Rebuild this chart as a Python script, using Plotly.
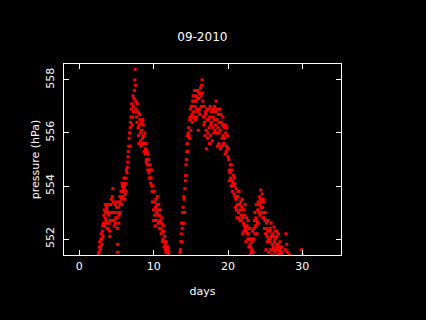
import plotly.graph_objects as go

# ---- data (days since start of month, pressure hPa) ----
days_a = [2.5, 2.6, 2.7, 2.8, 2.9, 3.0, 3.1, 3.2, 3.3, 3.4, 3.5, 3.6, 3.7, 3.8, 3.9,
          4.0, 4.1, 4.2, 4.3, 4.4, 4.5, 4.6, 4.7, 4.8, 4.9, 5.0, 5.1, 5.15, 5.2, 5.3,
          5.4, 5.5, 5.6, 5.7, 5.8, 5.9, 6.0, 6.1, 6.2, 6.3, 6.4, 6.5, 6.6, 6.7, 6.8,
          6.9, 7.0, 7.1, 7.2, 7.3, 7.4, 7.5, 7.6, 7.7, 7.8, 7.9, 8.0, 8.1, 8.2, 8.3,
          8.4, 8.5, 8.6, 8.7, 8.8, 8.9, 9.0, 9.1, 9.2, 9.3, 9.4, 9.5, 9.6, 9.7, 9.8,
          9.9, 10.0, 10.1, 10.2, 10.3, 10.4, 10.5, 10.6, 10.7, 10.8, 10.9, 11.0, 11.1,
          11.2, 11.3, 11.4, 11.5, 11.6, 11.7, 11.8, 11.9, 12.0, 12.1]
pres_a = [551.3, 551.45, 551.7, 551.6, 552.0, 551.8, 552.3, 552.1, 552.9, 552.5, 553.3,
          552.7, 553.1, 552.4, 553.3, 552.6, 552.1, 553.0, 553.5, 552.7, 553.9, 553.0,
          552.5, 553.3, 552.8, 553.2, 552.4, 551.5, 553.0, 552.6, 553.4, 553.0, 553.8,
          553.3, 554.0, 553.6, 554.3, 553.5, 554.1, 553.8, 554.5, 554.9, 555.3, 555.8,
          555.5, 556.4, 556.9, 556.3, 557.4, 556.8, 557.6, 558.4, 557.2, 556.6, 557.1,
          556.2, 555.6, 556.7, 556.0, 555.5, 556.4, 555.8, 556.3, 555.3, 556.0, 555.4,
          554.9, 555.3, 554.6, 555.0, 554.3, 554.8, 554.1, 554.6, 553.8, 554.0, 552.7,
          553.4, 552.5, 553.5, 553.0, 553.6, 552.9, 553.3, 552.4, 553.1, 552.2, 552.8,
          551.9, 552.5, 551.7, 552.1, 551.6, 551.9, 551.5, 551.7, 551.45, 551.3]

days_a2 = [2.65, 2.75, 2.85, 2.95, 3.05, 3.15, 3.25, 3.35, 3.45, 3.55, 3.65, 3.75,
           3.85, 3.95, 4.05, 4.15, 4.25, 4.35, 4.45, 4.55, 4.65, 4.75, 4.85, 4.95,
           5.05, 5.15, 5.25, 5.35, 5.45, 5.55, 5.65, 5.75, 5.85, 5.95, 6.05, 6.15,
           6.25, 6.35, 6.45, 6.55, 6.65, 6.75, 6.85, 6.95, 7.05, 7.15, 7.25, 7.35,
           7.45, 7.55, 7.65, 7.75, 7.85, 7.95, 8.05, 8.15, 8.25, 8.35, 8.45, 8.55,
           8.65, 8.75, 8.85, 8.95, 9.05, 9.15, 9.25, 9.35, 9.45, 9.55, 9.65, 9.75,
           9.85, 9.95, 10.05, 10.15, 10.25, 10.35, 10.45, 10.55, 10.65, 10.75, 10.85,
           10.95, 11.05, 11.15, 11.25, 11.35, 11.45, 11.55, 11.65, 11.75, 11.85,
           11.95, 12.05]
pres_a2 = [551.5, 551.9, 551.7, 552.2, 552.0, 552.5, 552.6, 553.1, 552.8, 553.0,
           553.2, 552.6, 553.0, 552.9, 552.3, 552.7, 553.3, 553.0, 553.6, 553.4,
           552.7, 553.0, 552.6, 553.4, 552.8, 551.8, 553.2, 552.9, 553.6, 553.3,
           553.5, 554.1, 553.8, 553.9, 554.0, 553.7, 554.3, 554.6, 554.7, 555.1,
           555.5, 556.0, 556.2, 556.6, 557.1, 556.6, 557.0, 557.3, 558.0, 557.8,
           556.9, 556.4, 556.8, 555.9, 556.3, 556.5, 555.7, 556.1, 555.6, 556.5,
           555.9, 555.6, 555.2, 555.6, 555.0, 554.8, 555.2, 554.5, 554.6, 554.3,
           554.3, 554.0, 553.4, 553.1, 553.8, 552.9, 553.2, 552.7, 553.3, 553.1,
           552.6, 552.9, 552.7, 552.4, 552.6, 552.3, 552.0, 552.3, 551.9, 551.8,
           551.5, 551.7, 551.6, 551.5, 551.5]

days_b = [13.5, 13.6, 13.7, 13.8, 13.9, 14.0, 14.1, 14.2, 14.3, 14.4, 14.5, 14.6, 14.7,
          14.8, 14.9, 15.0, 15.1, 15.2, 15.3, 15.4, 15.5, 15.6, 15.7, 15.8, 15.9, 16.0,
          16.1, 16.2, 16.3, 16.4, 16.5, 16.6, 16.7, 16.8, 16.9, 17.0, 17.1, 17.2, 17.3,
          17.4, 17.5, 17.6, 17.7, 17.8, 17.9, 18.0, 18.1, 18.2, 18.3, 18.4, 18.5, 18.6,
          18.7, 18.8, 18.9, 19.0, 19.1, 19.2, 19.3, 19.4, 19.5, 19.6, 19.7, 19.8, 19.9,
          20.0, 20.1, 20.2, 20.3, 20.4, 20.5, 20.6, 20.7, 20.8, 20.9, 21.0, 21.1, 21.2,
          21.3, 21.4, 21.5, 21.6, 21.7, 21.8, 21.9, 22.0, 22.1, 22.2, 22.3, 22.4, 22.5,
          22.6, 22.7, 22.8, 22.9, 23.0, 23.1, 23.2, 23.3, 23.4, 23.5, 23.6, 23.7, 23.8,
          23.9, 24.0, 24.1, 24.2, 24.3, 24.4, 24.5, 24.6, 24.7, 24.8, 24.9, 25.0, 25.1,
          25.2, 25.3, 25.4, 25.5, 25.6, 25.7, 25.8, 25.9, 26.0, 26.1, 26.2, 26.3, 26.4,
          26.5, 26.6, 26.7, 26.8, 26.9, 27.0, 27.1, 27.2, 27.3, 27.5, 27.7, 27.8, 27.9,
          28.0, 28.3, 28.5, 29.0, 29.5, 29.9, 30.0]
pres_b = [551.3, 551.6, 552.2, 551.9, 553.0, 552.6, 553.5, 553.9, 554.4, 555.0, 555.6,
          555.3, 556.2, 555.8, 556.6, 556.1, 557.0, 556.4, 557.4, 556.8, 557.6, 556.5,
          557.2, 556.9, 557.6, 556.1, 557.3, 556.7, 557.7, 557.0, 558.0, 557.2, 556.6,
          557.0, 555.9, 556.8, 555.4, 556.5, 556.0, 556.9, 555.6, 557.0, 556.3, 556.8,
          555.7, 556.6, 556.0, 557.0, 556.3, 557.2, 556.5, 555.5, 556.7, 556.0, 556.9,
          555.4, 556.4, 555.8, 556.6, 555.6, 556.2, 555.2, 556.0, 555.5, 555.9, 555.1,
          555.0, 554.2, 554.8, 554.0, 554.6, 553.8, 554.4, 553.7, 554.1, 553.2, 553.9,
          552.8, 553.6, 553.0, 553.8, 552.7, 553.4, 552.9, 553.5, 552.2, 553.1, 552.5,
          553.3, 551.9, 552.8, 552.2, 552.7, 551.7, 552.4, 551.4, 552.0, 551.6, 552.3,
          551.5, 552.4, 553.0, 552.5, 553.3, 552.2, 553.1, 552.6, 553.6, 552.9, 553.85,
          553.2, 553.7, 552.8, 553.4, 552.4, 553.0, 551.6, 552.6, 551.9, 552.7, 551.5,
          552.3, 552.0, 552.6, 551.4, 552.2, 551.7, 552.45, 551.5, 552.3, 551.8, 552.1,
          551.4, 552.2, 551.6, 551.9, 551.4, 551.7, 551.3, 551.2, 551.6, 552.2, 551.8,
          551.5, 551.4, 551.2, 551.1, 551.2, 551.6, 551.4]

days_b2 = [13.55, 13.65, 13.75, 13.85, 13.95, 14.05, 14.15, 14.25, 14.35, 14.45,
           14.55, 14.65, 14.75, 14.85, 14.95, 15.05, 15.15, 15.25, 15.35, 15.45,
           15.55, 15.65, 15.75, 15.85, 15.95, 16.05, 16.15, 16.25, 16.35, 16.45,
           16.55, 16.65, 16.75, 16.85, 16.95, 17.05, 17.15, 17.25, 17.35, 17.45,
           17.55, 17.65, 17.75, 17.85, 17.95, 18.05, 18.15, 18.25, 18.35, 18.45,
           18.55, 18.65, 18.75, 18.85, 18.95, 19.05, 19.15, 19.25, 19.35, 19.45,
           19.55, 19.65, 19.75, 19.85, 19.95, 20.05, 20.15, 20.25, 20.35, 20.45,
           20.55, 20.65, 20.75, 20.85, 20.95, 21.05, 21.15, 21.25, 21.35, 21.45,
           21.55, 21.65, 21.75, 21.85, 21.95, 22.05, 22.15, 22.25, 22.35, 22.45,
           22.55, 22.65, 22.75, 22.85, 22.95, 23.05, 23.15, 23.25, 23.35, 23.45,
           23.55, 23.65, 23.75, 23.85, 23.95, 24.05, 24.15, 24.25, 24.35, 24.45,
           24.55, 24.65, 24.75, 24.85, 24.95, 25.05, 25.15, 25.25, 25.35, 25.45,
           25.55, 25.65, 25.75, 25.85, 25.95, 26.05, 26.15, 26.25, 26.35, 26.45,
           26.55, 26.65, 26.75, 26.85, 26.95, 27.05, 27.15, 27.25]
pres_b2 = [551.5, 551.9, 552.6, 552.4, 553.2, 553.6, 553.0, 554.2, 554.8, 555.3,
           555.9, 556.0, 555.9, 556.5, 556.9, 556.6, 556.7, 557.2, 556.6, 557.2,
           557.0, 557.4, 556.6, 557.3, 556.8, 557.5, 556.9, 557.5, 557.4, 557.8,
           557.5, 557.0, 556.3, 556.4, 556.7, 556.1, 556.9, 555.8, 556.5, 556.2,
           556.6, 555.9, 556.4, 556.9, 556.2, 556.9, 556.5, 556.1, 556.8, 556.0,
           556.9, 556.2, 555.6, 556.4, 556.1, 556.7, 555.5, 556.3, 555.9, 556.3,
           555.8, 556.3, 555.3, 556.2, 555.4, 555.4, 554.6, 554.5, 554.3, 554.8,
           554.2, 554.1, 554.0, 554.3, 553.6, 553.5, 553.1, 553.3, 553.8, 552.8,
           553.3, 553.1, 552.7, 553.2, 552.8, 552.6, 552.3, 552.9, 552.4, 552.3,
           552.5, 552.0, 552.2, 552.0, 551.8, 551.7, 551.5, 551.9, 552.0, 552.0,
           552.7, 552.2, 552.8, 552.7, 552.6, 553.4, 553.0, 553.3, 553.5, 553.4,
           553.0, 553.2, 553.5, 552.8, 552.7, 552.2, 552.4, 552.1, 552.3, 552.0,
           551.9, 552.4, 551.6, 552.1, 551.8, 551.6, 552.1, 551.9, 552.0, 551.6,
           552.3, 551.7, 551.8, 551.5, 551.7, 551.6, 551.5, 551.5]

x_ticks = [0, 10, 20, 30]
y_ticks = [552, 554, 556, 558]

FONT = "DejaVu Sans"

fig = go.Figure()
fig.add_trace(go.Scatter(
    x=days_a + days_a2 + days_b + days_b2,
    y=pres_a + pres_a2 + pres_b + pres_b2,
    mode="markers",
    marker=dict(color="#ff0000", size=3, symbol="square", line=dict(width=0)),
    showlegend=False,
))

axis_common = dict(
    showline=True, linecolor="white", linewidth=1, mirror="allticks",
    ticks="inside", ticklen=5, tickcolor="white", tickwidth=1,
    showgrid=False, zeroline=False,
    tickfont=dict(family=FONT, size=11, color="white"),
)

fig.update_layout(
    width=426, height=320,
    paper_bgcolor="black", plot_bgcolor="black",
    margin=dict(l=64, r=85, t=64, b=65),
    title=dict(text="09-2010", x=0.475, xanchor="center", y=0.885, yanchor="middle",
               font=dict(family=FONT, size=12, color="white")),
    xaxis=dict(range=[-2.06, 35.2], tickvals=x_ticks, ticklabelstandoff=1,
               title=dict(text="days", standoff=15,
                          font=dict(family=FONT, size=11, color="white")),
               **axis_common),
    yaxis=dict(range=[551.4, 558.6], tickvals=y_ticks, tickangle=-90,
               ticklabelstandoff=5,
               title=dict(text="pressure (hPa)", standoff=1,
                          font=dict(family=FONT, size=11, color="white")),
               **axis_common),
)

fig.write_html(
    "out.html",
    config={"displayModeBar": False},
    post_script="document.body.style.margin='0';document.body.style.background='black';",
)
